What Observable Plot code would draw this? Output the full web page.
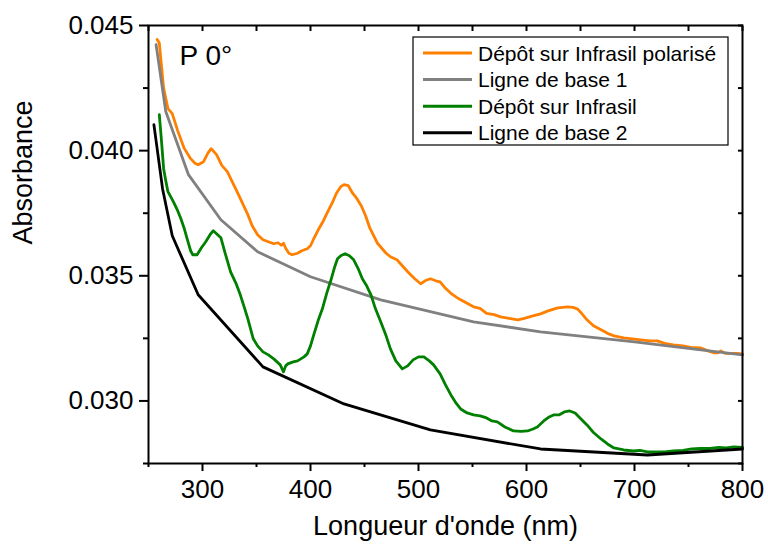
<!DOCTYPE html>
<html>
<head>
<meta charset="utf-8">
<script src="https://cdn.jsdelivr.net/npm/d3@7"></script>
<script src="https://cdn.jsdelivr.net/npm/@observablehq/plot@0.6"></script>
<style>
  body { margin: 0; background: #fff; }
  #chart { position: relative; width: 768px; height: 549px; }
</style>
</head>
<body>
<div id="chart"></div>
<script>
// ---- Data ----
const seriesNames = ["Dépôt sur Infrasil polarisé", "Ligne de base 1", "Dépôt sur Infrasil", "Ligne de base 2"];
const seriesColors = ["#ff8000", "#808080", "#008000", "#000000"];

const polariseX = [258,260,264,268,272,277,283,289,293,296,301,305,308,313,318,323,327,332,337,342,346,351,356,361,366,370,373,375,377,380,383,388,392,397,400,403,408,412,416,420,424,428,431,435,439,443,447,451,455,458,462,466,470,474,477,480,485,490,496,502,506,511,516,520,525,530,535,539,545,551,557,563,570,576,584,592,598,606,613,620,629,638,643,647,651,656,662,669,675,681,690,698,706,714,721,728,736,745,752,761,768,774,777,780,784,790,795,800];
const polariseY = [0.04444,0.0443,0.0425,0.04168,0.04148,0.0408,0.0401,0.03968,0.0395,0.03944,0.03956,0.0399,0.04008,0.03984,0.0394,0.03916,0.0388,0.03836,0.0379,0.03744,0.037,0.03664,0.03644,0.03636,0.03628,0.03632,0.03622,0.0363,0.0361,0.0359,0.03584,0.0359,0.036,0.03608,0.0362,0.03648,0.0369,0.0372,0.03756,0.0379,0.0383,0.03856,0.03864,0.0386,0.0383,0.03808,0.0378,0.0374,0.0369,0.03664,0.0363,0.0361,0.0359,0.03576,0.0357,0.03564,0.0354,0.03516,0.0349,0.03468,0.0348,0.03488,0.0348,0.03476,0.0345,0.0343,0.03415,0.03404,0.0339,0.03376,0.0337,0.0335,0.03345,0.03336,0.0333,0.03324,0.0333,0.0334,0.03348,0.0336,0.03372,0.03376,0.03374,0.03368,0.0335,0.03324,0.033,0.03284,0.0327,0.0326,0.03252,0.03248,0.03244,0.0324,0.0324,0.0323,0.03224,0.0322,0.03214,0.03212,0.032,0.03192,0.03192,0.032,0.0319,0.0319,0.0319,0.03188];

const base1X = [257,266,287,317,351,400,465,551,613,700,800];
const base1Y = [0.04424,0.04156,0.03904,0.03724,0.03596,0.03496,0.03404,0.03316,0.03276,0.03236,0.03184];

const depotX = [260,262,264,266,268,273,277,280,283,286,289,291,295,299,303,307,310,313,317,321,326,331,335,339,342,347,351,356,361,366,369,372,375,377,379,384,388,391,394,397,400,403,407,411,415,419,422,425,428,432,436,440,444,448,452,456,460,465,470,474,479,485,490,495,500,505,510,514,520,525,530,535,539,545,551,557,563,568,573,580,588,595,601,606,610,616,621,625,630,635,640,645,650,656,662,669,675,681,690,699,705,712,720,728,736,745,753,761,770,778,785,792,800];
const depotY = [0.04144,0.0404,0.03928,0.0388,0.03836,0.03796,0.0376,0.03728,0.0369,0.03644,0.036,0.03584,0.03584,0.03612,0.03636,0.03664,0.0368,0.03668,0.03652,0.0359,0.03516,0.0347,0.03424,0.0337,0.03328,0.03248,0.0322,0.03196,0.03184,0.03168,0.03156,0.03144,0.03116,0.0314,0.03148,0.03156,0.0316,0.03168,0.03176,0.03188,0.0322,0.03264,0.0332,0.03368,0.0343,0.03484,0.0353,0.03568,0.0358,0.03588,0.0358,0.03564,0.0353,0.03488,0.0346,0.03424,0.0337,0.03316,0.0326,0.03208,0.0316,0.03128,0.0314,0.03164,0.03176,0.03176,0.0316,0.03144,0.03108,0.03064,0.03024,0.0299,0.02968,0.02952,0.02944,0.0294,0.02932,0.0292,0.02916,0.02896,0.0288,0.02878,0.0288,0.02888,0.02896,0.0292,0.02936,0.02944,0.02944,0.02956,0.0296,0.02952,0.0293,0.02904,0.02874,0.02848,0.02828,0.02812,0.02804,0.028,0.02802,0.02796,0.02796,0.02796,0.028,0.02802,0.02808,0.0281,0.0281,0.02814,0.02812,0.02816,0.02814];

const base2X = [255,263,272,296,356,431,511,613,712,800];
const base2Y = [0.04104,0.03848,0.0366,0.03424,0.03136,0.02988,0.02884,0.02808,0.02784,0.02808];

const xMajor = [300,400,500,600,700,800];
const xMinor = [250,350,450,550,650,750];
const yMajor = [0.030,0.035,0.040,0.045];
const yMinor = [0.0275,0.0325,0.0375,0.0425];
const annotation = "P 0°";
const xLabel = "Longueur d'onde (nm)";
const yLabel = "Absorbance";

// ---- Build tidy table ----
const rows = [];
[[polariseX, polariseY], [base1X, base1Y], [depotX, depotY], [base2X, base2Y]].forEach(([xs, ys], i) => {
  xs.forEach((x, j) => rows.push({series: seriesNames[i], x, y: ys[j]}));
});

const font = "'Liberation Sans', Arial, Helvetica, sans-serif";

const plot = Plot.plot({
  width: 768,
  height: 549,
  marginLeft: 148,
  marginRight: 26,
  marginTop: 25,
  marginBottom: 86,
  style: {fontFamily: font, background: "#fff", color: "#000"},
  x: {domain: [250, 800]},
  y: {domain: [0.0275, 0.045]},
  color: {domain: seriesNames, range: seriesColors},
  marks: [
    Plot.line(rows, {x: "x", y: "y", z: "series", stroke: "series", strokeWidth: 2.8, strokeLinejoin: "round"}),
    Plot.frame({stroke: "#000", strokeWidth: 2}),
    Plot.axisX({ticks: xMajor, tickSize: 8, tickPadding: 8, fontSize: 26, label: null, strokeWidth: 2, tickFormat: d3.format("d")}),
    Plot.axisX({ticks: xMinor, tickSize: 4, label: null, strokeWidth: 2, fill: "none"}),
    Plot.axisX({anchor: "top", ticks: xMajor.concat(xMinor), tickSize: 5, dy: 5, label: null, strokeWidth: 2, fill: "none"}),
    Plot.axisY({ticks: yMajor, tickSize: 9, tickPadding: 6, fontSize: 26, label: null, strokeWidth: 2, tickFormat: d3.format(".3f")}),
    Plot.axisY({ticks: yMinor, tickSize: 5, label: null, strokeWidth: 2, fill: "none"}),
    Plot.axisY({anchor: "right", ticks: yMajor.concat(yMinor), tickSize: 5, dx: -5, label: null, strokeWidth: 2, fill: "none"}),
    Plot.text([xLabel], {frameAnchor: "bottom", dy: 71, fontSize: 27, fill: "#000"}),
    Plot.text([yLabel], {frameAnchor: "left", dx: -125, rotate: -90, fontSize: 27, fill: "#000"}),
    Plot.text([annotation], {frameAnchor: "top-left", dx: 31, dy: 20, lineAnchor: "top", textAnchor: "start", fontSize: 28, fill: "#000"})
  ]
});
document.getElementById("chart").appendChild(plot);

// ---- Legend (inside the plot, top-right) ----
const svg = d3.select(plot);
const lg = svg.append("g").attr("font-family", font).attr("font-size", 21).attr("text-anchor", "start");
lg.append("rect").attr("x", 413).attr("y", 37).attr("width", 315).attr("height", 108)
  .attr("fill", "#fff").attr("stroke", "#000").attr("stroke-width", 1.2);
seriesNames.forEach((name, i) => {
  const yy = 53 + i * 26.6;
  lg.append("line").attr("x1", 423).attr("x2", 472).attr("y1", yy).attr("y2", yy)
    .attr("stroke", seriesColors[i]).attr("stroke-width", 3);
  lg.append("text").attr("x", 478).attr("y", yy + 7.5).attr("fill", "#000").attr("text-anchor", "start").text(name);
});
</script>
</body>
</html>
